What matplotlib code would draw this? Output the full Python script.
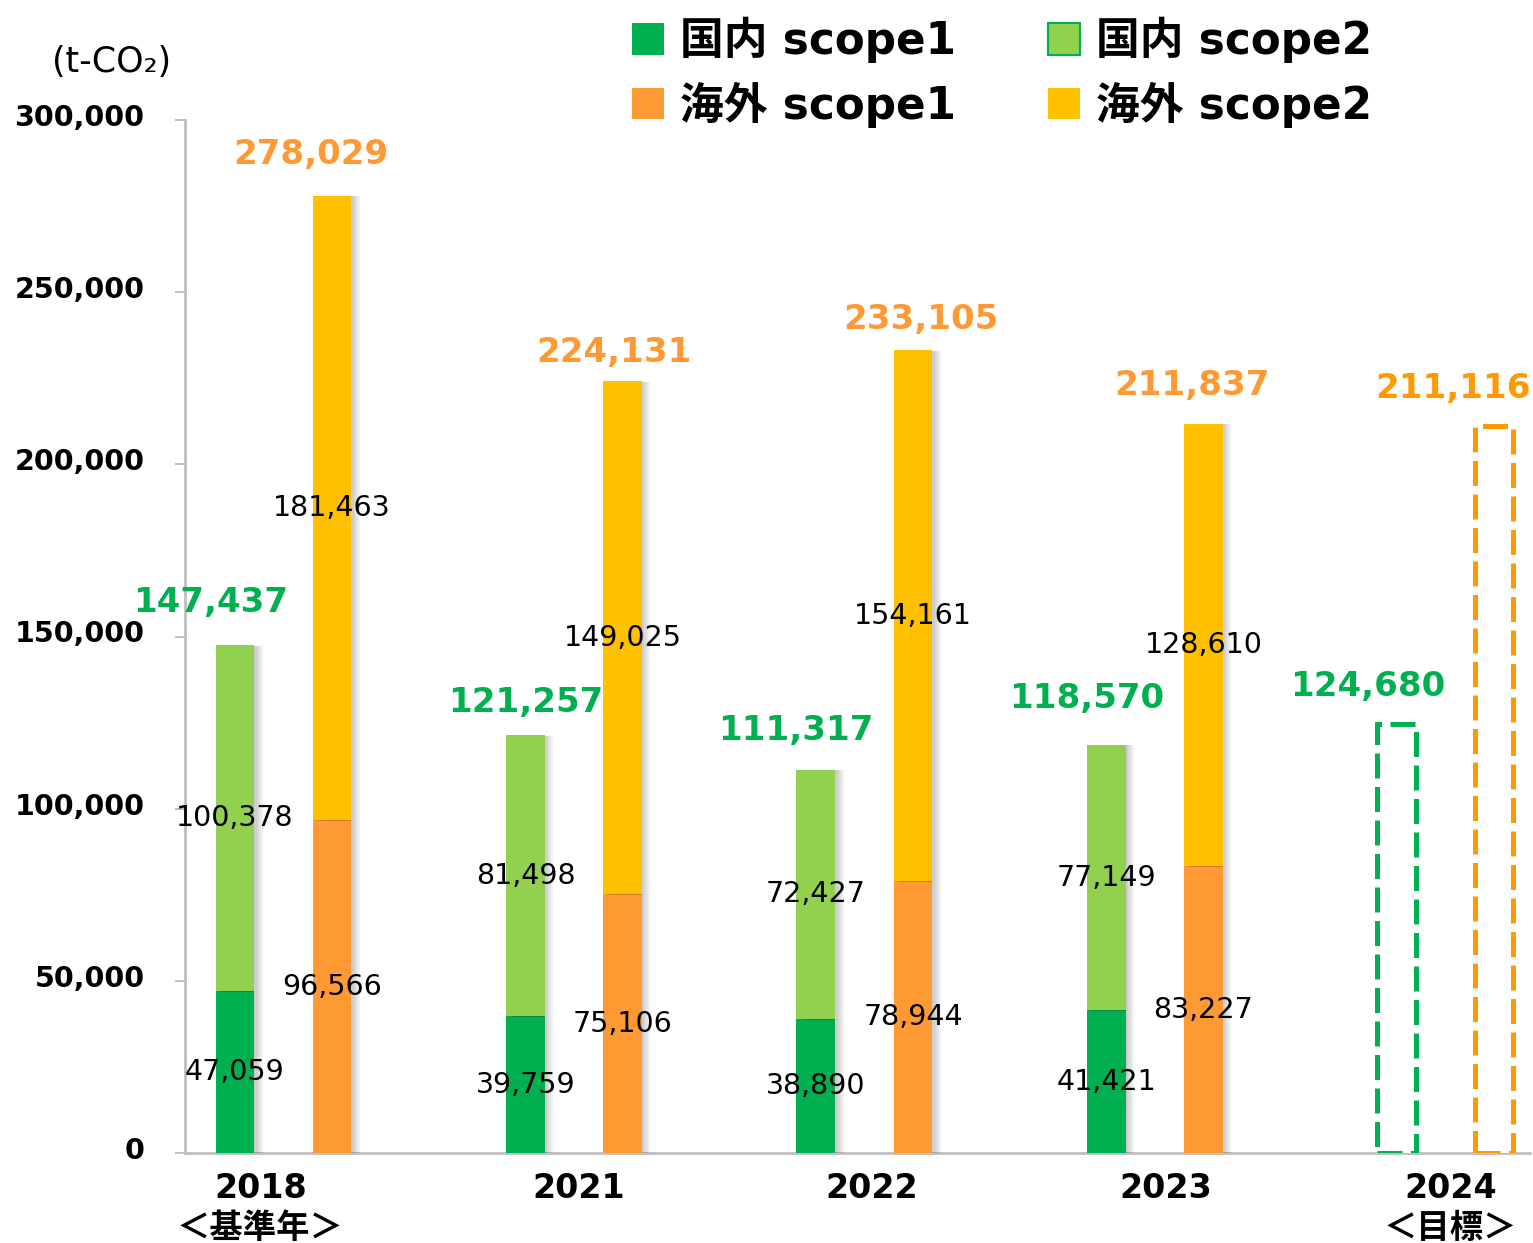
import matplotlib
matplotlib.use('Agg')
import matplotlib.pyplot as plt
import matplotlib.patheffects as pe
from matplotlib.patches import Patch
from matplotlib.transforms import ScaledTranslation
from matplotlib.ticker import FuncFormatter

plt.rcParams['font.family'] = ['DejaVu Sans', 'Noto Sans CJK JP']

# ---------------- data ----------------
year_labels = ['2018\n＜基準年＞', '2021', '2022', '2023', '2024\n＜目標＞']
dom_s1 = [47059, 39759, 38890, 41421]
dom_s2 = [100378, 81498, 72427, 77149]
ovs_s1 = [96566, 75106, 78944, 83227]
ovs_s2 = [181463, 149025, 154161, 128610]
dom_total = [147437, 121257, 111317, 118570, 124680]
ovs_total = [278029, 224131, 233105, 211837, 211116]
legend_labels = ['国内 scope1', '国内 scope2', '海外 scope1', '海外 scope2']
y_ticks = [0, 50000, 100000, 150000, 200000, 250000, 300000]

# ---------------- style ----------------
C_DOM1 = '#00B050'
C_DOM2 = '#92D050'
C_OVS1 = '#FF9933'
C_OVS2 = '#FFC000'
C_TGT_OVS = '#FF9900'
GREY = '#BFBFBF'

W, H = 1533, 1243
fig = plt.figure(figsize=(W / 100, H / 100), dpi=100)
ax = fig.add_axes([185 / W, 90 / H, (1530 - 185) / W, 1033 / H])

n_act = len(dom_s1)
n_all = len(year_labels)
xs = list(range(n_all))
off = 0.167
bw = 0.134

shadow = [pe.SimplePatchShadow(offset=(d, -0.5), shadow_rgbFace='k', alpha=0.05)
          for d in (1.5, 3, 4.5, 6)] + [pe.Normal()]

x_dom = [x - off for x in xs[:n_act]]
x_ovs = [x + off for x in xs[:n_act]]

bars = []
bars.append(ax.bar(x_dom, dom_s1, bw, color=C_DOM1, zorder=3))
bars.append(ax.bar(x_dom, dom_s2, bw, bottom=dom_s1, color=C_DOM2, zorder=3))
bars.append(ax.bar(x_ovs, ovs_s1, bw, color=C_OVS1, zorder=3))
bars.append(ax.bar(x_ovs, ovs_s2, bw, bottom=ovs_s1, color=C_OVS2, zorder=3))
for bc in bars:
    for p in bc:
        p.set_path_effects(shadow)

# target (dashed) bars
t_dom = ax.bar([xs[-1] - off], [dom_total[-1]], bw, facecolor='white', edgecolor=C_DOM1,
               linewidth=3.6, linestyle=(0, (5, 1.7)), zorder=3)
t_ovs = ax.bar([xs[-1] + off], [ovs_total[-1]], bw, facecolor='white', edgecolor=C_TGT_OVS,
               linewidth=3.6, linestyle=(0, (5, 1.7)), zorder=3)

# segment labels
seg_kw = dict(ha='center', va='center', fontsize=20.5, color='black', zorder=5)
for i in range(n_act):
    ax.text(x_dom[i], dom_s1[i] / 2, f'{dom_s1[i]:,}', **seg_kw)
    ax.text(x_dom[i], dom_s1[i] + dom_s2[i] / 2, f'{dom_s2[i]:,}', **seg_kw)
    ax.text(x_ovs[i], ovs_s1[i] / 2, f'{ovs_s1[i]:,}', **seg_kw)
    ax.text(x_ovs[i], ovs_s1[i] + ovs_s2[i] / 2, f'{ovs_s2[i]:,}', **seg_kw)

# total labels (pixel offsets from bar top centre)
dom_dx = [-24, 0, -20, -20, -29]
dom_dy = [43, 33, 39, 46, 37]
ovs_dx = [-21, -9, 8, -12, -41]
ovs_dy = [41, 29, 31, 38, 38]
ovs_colors = [C_OVS1] * n_act + [C_TGT_OVS]
for i in range(n_all):
    ax.annotate(f'{dom_total[i]:,}', (xs[i] - off, dom_total[i]),
                xytext=(dom_dx[i] * 0.72, dom_dy[i] * 0.72), textcoords='offset points',
                ha='center', va='center', fontsize=24.5, fontweight='bold', color=C_DOM1,
                annotation_clip=False, zorder=6)
    ax.annotate(f'{ovs_total[i]:,}', (xs[i] + off, ovs_total[i]),
                xytext=(ovs_dx[i] * 0.72, ovs_dy[i] * 0.72), textcoords='offset points',
                ha='center', va='center', fontsize=24.5, fontweight='bold', color=ovs_colors[i],
                annotation_clip=False, zorder=6)

# axes
ax.set_xlim(-0.339, 4.291)
ax.set_ylim(0, 300000)
ax.set_yticks(y_ticks)
ax.yaxis.set_major_formatter(FuncFormatter(lambda v, p: f'{int(v):,}'))
ax.set_xticks(xs)
ax.set_xticklabels(year_labels, fontsize=24, fontweight='bold', linespacing=1.25)
ax.tick_params(axis='y', length=7.2, width=1.4, color=GREY, pad=22, labelsize=20.5)
for lab in ax.get_yticklabels():
    lab.set_fontweight('bold')
    lab.set_transform(lab.get_transform() + ScaledTranslation(0, 5 / 100, fig.dpi_scale_trans))
ax.tick_params(axis='x', length=0, pad=14)
xlab_dx = [-23, 5, 7, 11, 5]
for lab, dx in zip(ax.get_xticklabels(), xlab_dx):
    lab.set_transform(lab.get_transform() + ScaledTranslation(dx / 100, 0, fig.dpi_scale_trans))

for s in ('top', 'right'):
    ax.spines[s].set_visible(False)
for s in ('left', 'bottom'):
    ax.spines[s].set_color(GREY)
    ax.spines[s].set_linewidth(2.0)

# unit label
fig.text(52 / W, 1 - 62 / H, '(t-CO₂)', fontsize=25, ha='left', va='center')

# legend
handles = [
    Patch(facecolor=C_DOM1, edgecolor='none'),
    Patch(facecolor=C_OVS1, edgecolor='none'),
    Patch(facecolor=C_DOM2, edgecolor=C_DOM1, linewidth=1.5),
    Patch(facecolor=C_OVS2, edgecolor='none'),
]
labels = [legend_labels[0], legend_labels[2], legend_labels[1], legend_labels[3]]
fig.legend(handles, labels, loc='upper left', bbox_to_anchor=(632 / W, 1 - 17 / H),
           ncol=2, frameon=False, prop={'size': 31.5, 'weight': 'bold'},
           handlelength=0.72, handleheight=0.74, handletextpad=0.38,
           columnspacing=2.1, labelspacing=0.42, borderpad=0, borderaxespad=0)

fig.savefig('out.png', dpi=100)
